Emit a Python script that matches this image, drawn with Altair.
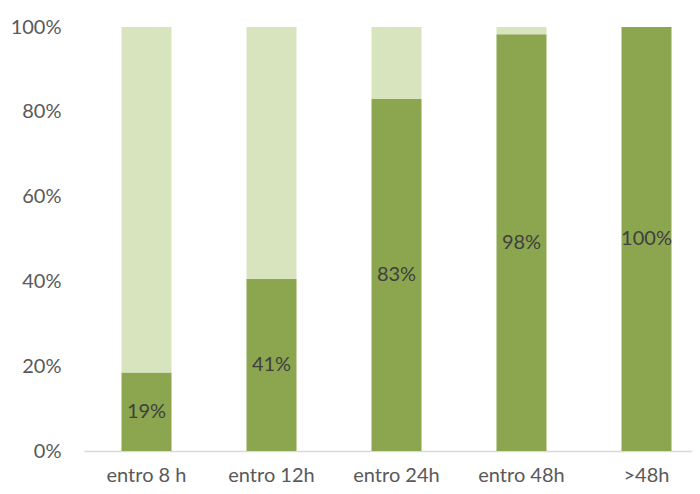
import altair as alt
import pandas as pd

categories = ["entro 8 h", "entro 12h", "entro 24h", "entro 48h", ">48h"]
within = [0.185, 0.406, 0.83, 0.983, 1.0]
labels = ["19%", "41%", "83%", "98%", "100%"]

rows = []
for c, v, l in zip(categories, within, labels):
    rows.append({"cat": c, "seg": "a", "val": v, "order": 0, "label": l, "mid": v / 2})
    rows.append({"cat": c, "seg": "b", "val": 1 - v, "order": 1, "label": "", "mid": None})
df = pd.DataFrame(rows)

FONT = "Lato"

x = alt.X("cat:N", sort=categories, title=None,
          scale=alt.Scale(range=[0, 625], paddingInner=0.6, paddingOuter=0.3),
          axis=alt.Axis(labelAngle=0, labelFont=FONT, labelFontSize=20, labelColor="#595959",
                        ticks=False, domainColor="#D9D9D9", domainWidth=1.5, labelPadding=14))

bars = alt.Chart(df).mark_bar().encode(
    x=x,
    y=alt.Y("val:Q", stack="zero", title=None,
            scale=alt.Scale(domain=[0, 1], nice=False),
            axis=alt.Axis(format=".0%", values=[0, 0.2, 0.4, 0.6, 0.8, 1.0], grid=False,
                          domain=False, ticks=False, labelFont=FONT, labelFontSize=20,
                          labelColor="#595959", labelPadding=23)),
    color=alt.Color("seg:N", scale=alt.Scale(domain=["a", "b"], range=["#8BA64E", "#D8E4BE"]), legend=None),
    order=alt.Order("order:Q"),
)

text = alt.Chart(df[df["seg"] == "a"]).mark_text(font=FONT, fontSize=20, color="#404040").encode(
    x=alt.X("cat:N", sort=categories),
    y=alt.Y("mid:Q"),
    text="label:N",
)

chart = (bars + text).properties(
    width=608, height=424,
    autosize=alt.AutoSizeParams(type="none"),
    padding={"left": 76, "top": 19, "right": 0, "bottom": 35},
).configure_view(stroke=None)

chart.save("out.html", embed_options={"renderer": "svg", "actions": False})
